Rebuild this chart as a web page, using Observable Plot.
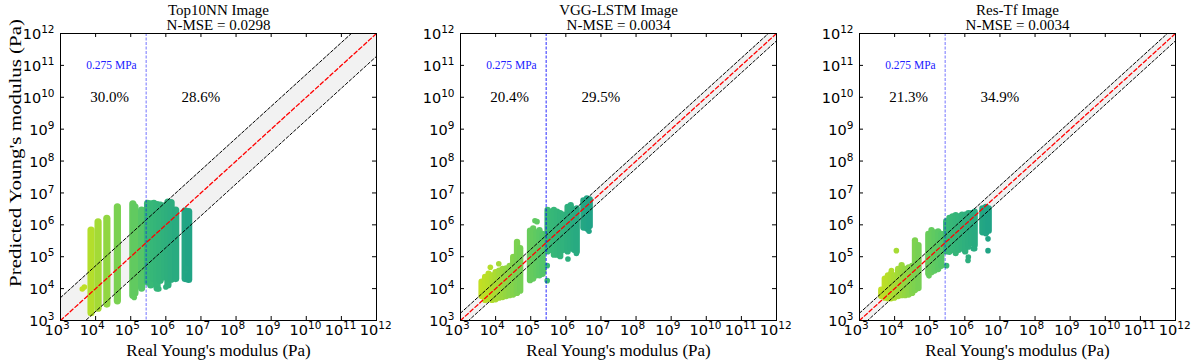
<!DOCTYPE html>
<html><head><meta charset="utf-8">
<script src="https://cdn.jsdelivr.net/npm/d3@7"></script>
<script src="https://cdn.jsdelivr.net/npm/@observablehq/plot@0.6"></script>
<style>
body{margin:0;background:#fff;}
#wrap{position:relative;width:1196px;height:363px;overflow:hidden;background:#fff;}
#wrap svg{position:absolute;top:0;}
</style></head><body><div id="wrap"></div>
<script>
// ---- data ----
const panelTitles = ["Top10NN Image", "VGG-LSTM Image", "Res-Tf Image"];
const nmse = ["0.0298", "0.0034", "0.0034"];
const pctLeft = ["30.0%", "20.4%", "21.3%"];
const pctRight = ["28.6%", "29.5%", "34.9%"];
const bandFactor = [5.2, 1.7, 1.7];
const threshold = 2.75e5;
const thresholdLabel = "0.275 MPa";
const xLabel = "Real Young's modulus (Pa)";
const yLabel = "Predicted Young's modulus (Pa)";
const decades = [3, 4, 5, 6, 7, 8, 9, 10, 11, 12];
// stripes: [log10 real, log10 predicted low, log10 predicted high]
const stripes1 = [
 [3.87,3.23,5.82],[4.07,3.37,6.08],[4.32,3.50,6.19],[4.62,3.60,6.55],
 [5.06,3.78,6.64],[5.12,3.85,6.55],[5.31,4.00,6.45],
 [5.48,4.20,6.66],[5.57,4.10,6.64],[5.66,4.30,6.66],[5.75,4.00,6.62],[5.84,4.25,6.60],
 [5.97,4.35,6.58],[6.06,4.10,6.70],[6.15,4.28,6.68],[6.28,4.30,6.45],
 [6.55,4.30,6.42],[6.65,4.27,6.40]
];
const dots1 = [[3.62,3.99],[3.68,4.05],[5.10,3.72],[5.80,3.99],[6.00,4.05],[6.55,4.55],[6.58,4.65]];
const stripes2 = [
 [3.60,3.75,4.20],[3.70,3.63,4.35],[3.80,3.65,4.45],[3.90,3.63,4.40],
 [4.00,3.65,4.50],[4.10,3.70,4.55],[4.20,3.72,4.60],[4.30,3.75,4.62],
 [4.40,3.78,4.70],[4.50,3.80,4.98],[4.61,3.85,5.45],[4.70,3.92,5.25],
 [4.98,4.25,5.80],[5.07,4.30,5.87],[5.16,4.40,5.75],[5.25,4.40,5.82],[5.34,4.45,5.70],
 [5.48,5.15,6.45],[5.57,5.20,6.40],[5.66,5.05,6.45],[5.75,5.05,6.40],[5.84,5.00,6.35],[5.93,5.20,6.30],
 [6.05,5.15,6.55],[6.14,5.25,6.60],[6.23,5.20,6.45],[6.31,5.15,6.50],
 [6.50,5.90,6.75],[6.60,5.87,6.81],[6.68,5.95,6.78]
];
const dots2 = [[3.85,4.67],[4.09,4.78],[5.12,6.13],[5.18,6.10],[5.37,4.57],[5.47,4.72],[5.47,4.25],[6.06,4.93],[6.30,5.10],[6.66,5.80]];
const stripes3 = [
 [3.62,3.75,3.95],[3.72,3.70,4.30],[3.81,3.68,4.40],[3.90,3.68,4.46],[3.99,3.70,4.40],
 [4.10,3.75,4.60],[4.20,3.78,4.72],[4.30,3.78,4.60],[4.40,3.80,4.65],[4.50,3.85,4.70],
 [4.58,3.94,5.50],[4.68,4.00,5.35],
 [4.96,4.46,5.70],[5.05,4.50,5.82],[5.14,4.55,5.75],[5.24,4.60,5.78],[5.33,4.70,5.70],
 [5.47,5.15,6.10],[5.56,5.14,6.20],[5.65,5.20,6.25],[5.74,5.10,6.29],[5.83,5.20,6.25],
 [5.92,5.25,6.30],[6.01,5.15,6.30],[6.10,5.30,6.35],[6.19,5.40,6.35],[6.28,5.35,6.40],
 [6.50,5.75,6.50],[6.60,5.72,6.55],[6.68,5.80,6.50]
];
const dots3 = [[4.05,5.19],[3.91,4.57],[4.98,4.40],[5.48,4.72],[6.09,4.88],[6.10,4.99],[6.24,5.25],[6.28,5.25],[6.66,5.56],[6.66,5.19]];
const allStripes = [stripes1, stripes2, stripes3];
const allDots = [dots1, dots2, dots3];
// colour map (viridis positions against log10 real modulus)
const colorExp = [3.6, 3.85, 4.62, 5.09, 5.38, 5.44, 6.7];
const colorT = [0.91, 0.889, 0.80, 0.76, 0.73, 0.68, 0.58];

// ---- layout ----
const panelLeft = [0, 400, 796];
const marginL = [60, 60, 63];
const marginR = [24, 24, 21];
const W = 400, H = 363, MT = 33, MB = 43;
const serif = "Liberation Serif, Times New Roman, serif";
const blueOpacity = [0.55, 0.85, 0.55];
const stripeWidth = [7.2, 6.3, 6.3];

function supTicks(svg) {
  const fix = (t, isX) => {
    const e = t.textContent;
    t.textContent = "10";
    t.style.fontSize = "14.5px";
    t.style.fontFamily = "DejaVu Sans, sans-serif";
    const s = document.createElementNS("http://www.w3.org/2000/svg", "tspan");
    s.style.fontSize = "10.5px";
    s.setAttribute("dy", "-6");
    s.textContent = e;
    t.appendChild(s);
    if (isX) {
      const tr = t.getAttribute("transform") || "";
      t.setAttribute("transform", `${tr} translate(${e.length > 1 ? -0.8 : -3.4},0)`);
    }
  };
  svg.querySelectorAll('g[aria-label="x-axis tick label"] text').forEach(t => fix(t, true));
  svg.querySelectorAll('g[aria-label="y-axis tick label"] text').forEach(t => fix(t, false));
  svg.querySelectorAll("text").forEach(t => {
    if (t.textContent === yLabel) {
      t.setAttribute("textLength", "268");
      t.setAttribute("lengthAdjust", "spacingAndGlyphs");
    }
  });
}

const wrap = document.getElementById("wrap");
for (let i = 0; i < 3; i++) {
  const k = bandFactor[i];
  const ends = [1e3, 1e12];
  const iw = W - marginL[i] - marginR[i], ih = H - MT - MB;
  const tv = decades.map(e => 10 ** e);
  const fmt = d => String(Math.round(Math.log10(d)));
  const marks = [
    Plot.areaY(ends, {x: d => d, y1: d => d / k, y2: d => d * k, fill: "#f2f2f2", clip: true}),
    Plot.ruleX(allStripes[i], {x: d => 10 ** d[0], y1: d => 10 ** d[1], y2: d => 10 ** d[2], stroke: d => 10 ** d[0], strokeWidth: stripeWidth[i], strokeLinecap: "round"}),
    Plot.dot(allDots[i], {x: d => 10 ** d[0], y: d => 10 ** d[1], r: 2.8, fill: d => 10 ** d[0]}),
    Plot.line(ends, {x: d => d, y: d => d * k, stroke: "#000", strokeWidth: 1, strokeDasharray: "3,2", clip: true}),
    Plot.line(ends, {x: d => d, y: d => d / k, stroke: "#000", strokeWidth: 1, strokeDasharray: "3,2", clip: true}),
    Plot.line(ends, {x: d => d, y: d => d, stroke: "red", strokeWidth: 1.3, strokeDasharray: "4,2.5", clip: true}),
    Plot.ruleX([threshold], {stroke: "#0000ff", strokeOpacity: blueOpacity[i], strokeWidth: 1, strokeDasharray: "3,1.5"}),
    Plot.text([thresholdLabel], {x: 10 ** 4.45, y: 1e11, text: d => d, fill: "#2020ff", fontSize: 11.5, fontFamily: serif}),
    Plot.text([pctLeft[i]], {x: 10 ** 4.4, y: 1e10, text: d => d, fill: "#000", fontSize: 15, fontFamily: serif}),
    Plot.text([pctRight[i]], {x: 1e7, y: 1e10, text: d => d, fill: "#000", fontSize: 15, fontFamily: serif}),
    Plot.text([panelTitles[i]], {frameAnchor: "top", textAnchor: "middle", lineAnchor: "middle", dy: -23.8, text: d => d, fill: "#000", fontSize: 15, fontFamily: serif}),
    Plot.text([`N-MSE = ${nmse[i]}`], {frameAnchor: "top", textAnchor: "middle", lineAnchor: "middle", dy: -8.8, text: d => d, fill: "#000", fontSize: 15, fontFamily: serif}),
    Plot.text([xLabel], {frameAnchor: "bottom", textAnchor: "middle", lineAnchor: "top", dy: 23, text: d => d, fill: "#000", fontSize: 17, fontFamily: serif}),
    i === 0 ? Plot.text([yLabel], {frameAnchor: "left", textAnchor: "middle", rotate: -90, lineAnchor: "bottom", dx: -40, dy: -24, text: d => d, fill: "#000", fontSize: 17, fontFamily: serif}) : null,
    Plot.frame({stroke: "#000", strokeWidth: 1}),
    Plot.tickX(tv, {x: d => d, insetTop: ih - 4, stroke: "#000"}),
    Plot.tickX(tv, {x: d => d, insetBottom: ih - 4, stroke: "#000"}),
    Plot.tickY(tv, {y: d => d, insetRight: iw - 4, stroke: "#000"}),
    Plot.tickY(tv, {y: d => d, insetLeft: iw - 4, stroke: "#000"}),
    Plot.axisX(tv, {anchor: "bottom", tickSize: 0, tickPadding: 4.7, tickFormat: fmt, label: null, fontSize: 14.5, fill: "#000"}),
    Plot.axisY(tv, {anchor: "left", tickSize: 0, tickPadding: 6, tickFormat: fmt, dy: 1, label: null, fontSize: 14.5, fill: "#000"})
  ];
  const svg = Plot.plot({
    width: W, height: H,
    marginLeft: marginL[i], marginRight: marginR[i], marginTop: MT, marginBottom: MB,
    style: {fontFamily: "DejaVu Sans, sans-serif", fontSize: "14.5px", background: "white", color: "black", overflow: "visible"},
    x: {type: "log", domain: [1e3, 1e12]},
    y: {type: "log", domain: [1e3, 1e12]},
    color: {type: "log", domain: colorExp.map(e => 10 ** e), range: colorT.map(t => d3.interpolateViridis(t))},
    marks
  });
  supTicks(svg);
  svg.style.left = panelLeft[i] + "px";
  wrap.appendChild(svg);
}
</script>
</body></html>
